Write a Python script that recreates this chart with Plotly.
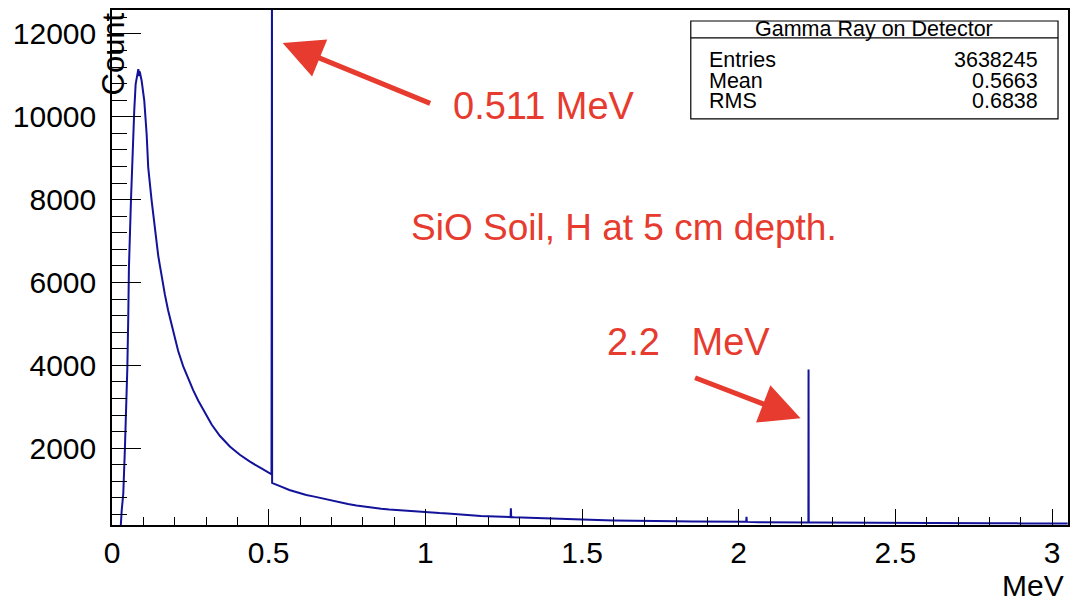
import plotly.graph_objects as go

# ---- data (energy in MeV, counts per bin) ----
energy = [0.0, 0.027, 0.031, 0.036, 0.041, 0.045, 0.049, 0.052, 0.054, 0.0605, 0.065,
          0.071, 0.0755, 0.0806, 0.084, 0.086, 0.087, 0.089, 0.0946, 0.103, 0.1105,
          0.1156, 0.1264, 0.137, 0.1475, 0.153, 0.158, 0.163, 0.169, 0.179, 0.190,
          0.201, 0.211, 0.227, 0.243, 0.259, 0.275, 0.296, 0.318, 0.344, 0.376,
          0.408, 0.439, 0.477, 0.505, 0.509, 0.5105, 0.511, 0.514, 0.525, 0.540,
          0.566, 0.593, 0.620, 0.646, 0.673, 0.700, 0.726, 0.753, 0.780, 0.806,
          0.833, 0.859, 0.885, 0.912, 0.940, 0.965, 0.990, 1.018, 1.045, 1.071,
          1.100, 1.124, 1.150, 1.177, 1.200, 1.230, 1.260, 1.272, 1.273, 1.274,
          1.283, 1.310, 1.337, 1.360, 1.389, 1.415, 1.443, 1.500, 1.550, 1.600,
          1.639, 1.700, 1.750, 1.800, 1.851, 1.900, 1.950, 1.989, 2.000, 2.024,
          2.025, 2.026, 2.064, 2.100, 2.150, 2.200, 2.2225, 2.223, 2.2235, 2.250,
          2.300, 2.382, 2.450, 2.500, 2.600, 2.700, 2.800, 2.900, 3.000, 3.050]
counts = [0, 0, 500, 900, 1950, 2750, 3950, 5200, 6350, 7980, 9180,
          10150, 10790, 11070, 11150, 10980, 11100, 11070, 10870, 10390, 9590,
          8780, 7980, 7250, 6650, 6400, 6150, 5950, 5700, 5330, 4980,
          4650, 4350, 3980, 3670, 3400, 3150, 2850, 2570, 2300, 2040,
          1840, 1680, 1510, 1400, 1370, 13500, 1160, 1150, 1110, 1070,
          990, 925, 870, 830, 780, 730, 690, 650, 615, 585,
          560, 540, 520, 505, 485, 465, 450, 440, 432, 425,
          405, 393, 375, 362, 355, 345, 338, 335, 550, 335,
          330, 325, 318, 312, 305, 296, 288, 275, 265, 255,
          248, 242, 238, 235, 232, 228, 225, 223, 222, 222,
          340, 220, 212, 210, 208, 205, 205, 3900, 205, 203,
          200, 198, 195, 193, 190, 188, 186, 184, 182, 180]

stats_labels = ["Entries", "Mean", "RMS"]
stats_values = ["3638245", "0.5663", "0.6838"]

# ---- layout helpers (pixel -> paper) ----
L, R, T, B = 112, 1070, 9, 525
def px(x):
    return (x - L) / (R - L)
def py(y):
    return (B - y) / (B - T)

RED = "#e63b2e"
FONT = "Liberation Sans"

fig = go.Figure()
fig.add_trace(go.Scatter(x=energy, y=counts, mode="lines",
                         line=dict(color="#12129a", width=2),
                         showlegend=False, hoverinfo="skip"))

fig.update_layout(
    width=1078, height=601,
    margin=dict(l=L, r=1078 - R, t=T, b=601 - B),
    paper_bgcolor="white", plot_bgcolor="white",
    font=dict(family=FONT, color="black"),
)
fig.update_xaxes(range=[0, 3.051], tick0=0, dtick=0.5, ticks="inside", ticklen=16,
                 tickwidth=1.2, tickcolor="black", showline=True, linecolor="black",
                 linewidth=1.5, mirror=True, showgrid=False, zeroline=False,
                 tickfont=dict(size=30, family=FONT, color="black"), ticklabelstandoff=0,
                 minor=dict(ticks="inside", ticklen=8, tick0=0, dtick=0.1,
                            tickcolor="black", tickwidth=1.2, showgrid=False))
fig.update_yaxes(range=[145, 12578], tick0=0, dtick=2000, ticks="inside", ticklen=29,
                 tickwidth=1.2, tickcolor="black", showline=True, linecolor="black",
                 linewidth=1.5, mirror=True, showgrid=False, zeroline=False,
                 tickformat="d",
                 tickfont=dict(size=30, family=FONT, color="black"), ticklabelstandoff=8,
                 minor=dict(ticks="inside", ticklen=15, tick0=0, dtick=400,
                            tickcolor="black", tickwidth=1.2, showgrid=False))

def note(text, x, y, size, color="black", xanchor="center", **kw):
    d = dict(text=text, xref="paper", yref="paper", x=px(x), y=py(y),
             xanchor=xanchor, yanchor="middle", showarrow=False,
             font=dict(size=size, family=FONT, color=color))
    d.update(kw)
    return d

ann = []
# axis titles
ann.append(note("MeV", 1068, 586, 30, xanchor="right"))
ann.append(dict(text="Count", xref="paper", yref="paper", x=px(114), y=py(9),
                xanchor="center", yanchor="top", textangle=-90, showarrow=False,
                font=dict(size=31, family=FONT, color="black")))
# red notes
ann.append(note("0.511 MeV", 545, 105, 38, RED))
ann.append(note("SiO Soil, H at 5 cm depth.", 625, 227, 37, RED))
ann.append(note("2.2\u00a0\u00a0\u00a0MeV", 690, 342, 38, RED))
# arrows
ann.append(dict(text="", xref="paper", yref="paper", x=px(283), y=py(42),
                ax=149, ay=61, showarrow=True, arrowhead=2, arrowsize=1.6,
                arrowwidth=5, arrowcolor=RED, standoff=0))
ann.append(dict(text="", xref="paper", yref="paper", x=px(802), y=py(418),
                ax=-107, ay=-41, showarrow=True, arrowhead=2, arrowsize=1.6,
                arrowwidth=5, arrowcolor=RED, standoff=0))
# stats box text
ann.append(note("Gamma Ray on Detector", 876, 28, 21.5))
rows_y = [59, 80, 100]
for lab, val, yy in zip(stats_labels, stats_values, rows_y):
    ann.append(note(lab, 708, yy, 21.5, xanchor="left"))
    ann.append(note(val, 1042, yy, 21.5, xanchor="right"))
fig.update_layout(annotations=ann)

fig.update_layout(shapes=[
    dict(type="rect", xref="paper", yref="paper", x0=px(692), x1=px(1060),
         y0=py(118), y1=py(20), line=dict(color="black", width=1.2),
         fillcolor="white", layer="above"),
    dict(type="line", xref="paper", yref="paper", x0=px(692), x1=px(1060),
         y0=py(37), y1=py(37), line=dict(color="black", width=1.2)),
])

fig.write_html("out.html")
